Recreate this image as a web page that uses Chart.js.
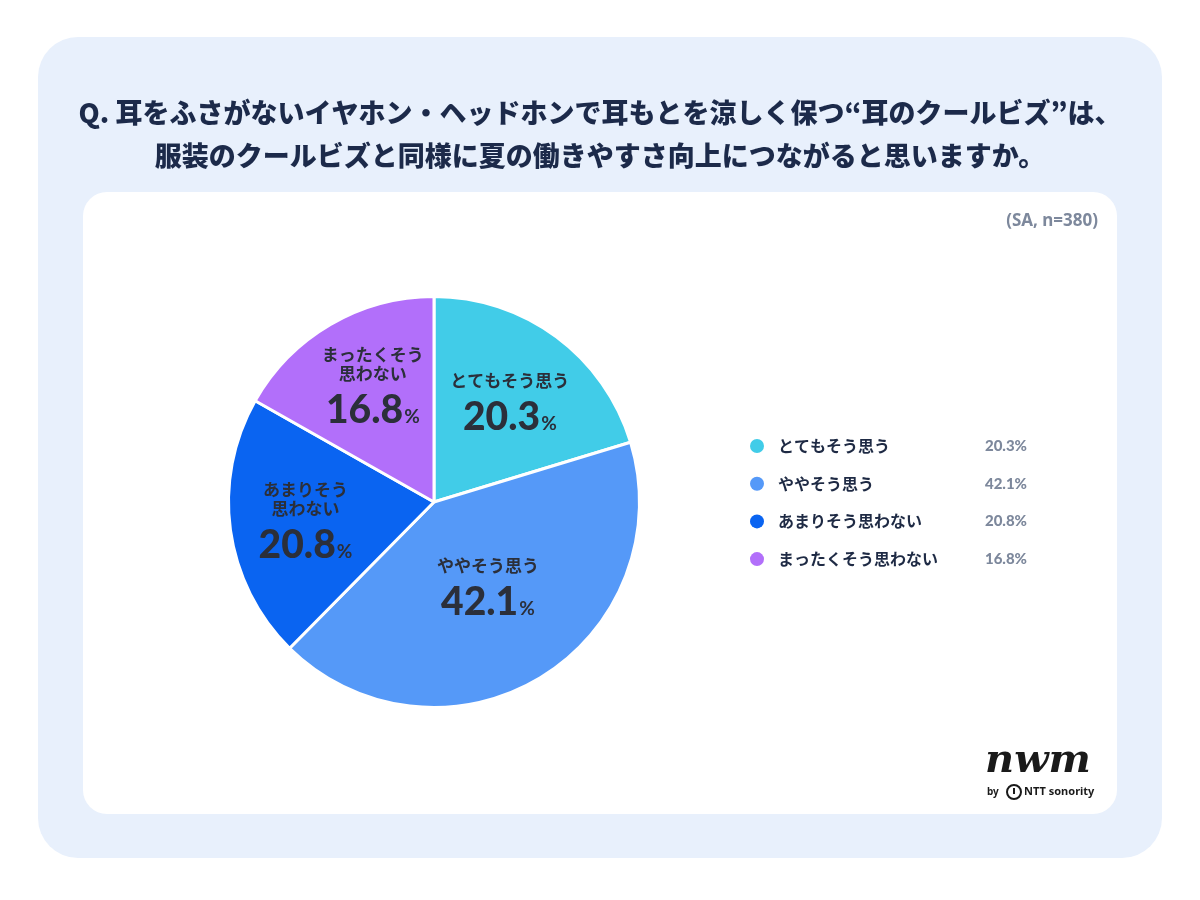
<!DOCTYPE html>
<html>
<head>
<meta charset="utf-8">
<script src="https://cdn.jsdelivr.net/npm/chart.js@4/dist/chart.umd.min.js"></script>
<style>
html,body{margin:0;padding:0;background:#fff;}
#wrap{width:1200px;height:900px;position:relative;}
</style>
</head>
<body>
<div id="wrap"><canvas id="c" width="1200" height="900"></canvas></div>
<script>
const titleLines = [
  'Q. 耳をふさがないイヤホン・ヘッドホンで耳もとを涼しく保つ“耳のクールビズ”は、',
  '服装のクールビズと同様に夏の働きやすさ向上につながると思いますか。'
];
const sampleNote = '(SA, n=380)';
const categories = ['とてもそう思う', 'ややそう思う', 'あまりそう思わない', 'まったくそう思わない'];
const sliceLabelLines = [['とてもそう思う'], ['ややそう思う'], ['あまりそう', '思わない'], ['まったくそう', '思わない']];
const values = [20.3, 42.1, 20.8, 16.8];
const colors = ['#41CCE8', '#5599F8', '#0A64F1', '#B26FFA'];

const JP = '"Noto Sans CJK JP", "Noto Sans", sans-serif';
const NUM = 'Lato, "Noto Sans", sans-serif';
// label placement (radius factor, angle nudge in degrees) - styling only
const labelPos = [[0.62, 0], [0.48, -2], [0.63, 1], [0.65, 3]];

function roundRect(ctx, x, y, w, h, r) {
  ctx.beginPath();
  ctx.moveTo(x + r, y);
  ctx.arcTo(x + w, y, x + w, y + h, r);
  ctx.arcTo(x + w, y + h, x, y + h, r);
  ctx.arcTo(x, y + h, x, y, r);
  ctx.arcTo(x, y, x + w, y, r);
  ctx.closePath();
}

const decor = {
  id: 'decor',
  beforeDraw(chart) {
    const ctx = chart.ctx;
    ctx.save();
    ctx.fillStyle = '#ffffff';
    ctx.fillRect(0, 0, 1200, 900);
    ctx.fillStyle = '#E8F0FC';
    roundRect(ctx, 38, 37, 1124, 821, 40);
    ctx.fill();
    ctx.fillStyle = '#ffffff';
    roundRect(ctx, 83, 192, 1034, 622, 24);
    ctx.fill();
    // title
    ctx.fillStyle = '#1C2A4A';
    ctx.font = '900 27px ' + JP;
    ctx.textAlign = 'center';
    ctx.textBaseline = 'middle';
    ctx.fillText(titleLines[0], 600, 113);
    ctx.fillText(titleLines[1], 600, 156);
    // note
    ctx.fillStyle = '#7D889C';
    ctx.font = 'bold 17px "Noto Sans", sans-serif';
    ctx.textAlign = 'right';
    ctx.fillText(sampleNote, 1098, 221);
    ctx.restore();
  },
  afterDraw(chart) {
    const ctx = chart.ctx;
    const meta = chart.getDatasetMeta(0);
    ctx.save();
    ctx.textBaseline = 'middle';
    meta.data.forEach((arc, i) => {
      const p = arc.getProps(['x', 'y', 'startAngle', 'endAngle', 'outerRadius'], true);
      const mid = (p.startAngle + p.endAngle) / 2 + labelPos[i][1] * Math.PI / 180;
      const r = p.outerRadius * labelPos[i][0];
      const cx = p.x + Math.cos(mid) * r;
      const cy = p.y + Math.sin(mid) * r;
      const lines = sliceLabelLines[i];
      const lh = 19;
      const valH = 34;
      const total = lines.length * lh + valH + 4;
      let y = cy - total / 2 + lh / 2;
      ctx.fillStyle = '#2B2F3A';
      ctx.font = 'bold 17px ' + JP;
      ctx.textAlign = 'center';
      lines.forEach(l => { ctx.fillText(l, cx, y); y += lh; });
      y += 4 + valH / 2 - lh / 2 + 6;
      const num = values[i].toFixed(1);
      ctx.font = '900 39px ' + NUM;
      const wNum = ctx.measureText(num).width;
      ctx.font = 'bold 19px ' + NUM;
      const wPct = ctx.measureText('%').width;
      const startX = cx - (wNum + 1 + wPct) / 2;
      ctx.textAlign = 'left';
      ctx.textBaseline = 'alphabetic';
      ctx.font = '900 39px ' + NUM;
      ctx.fillText(num, startX, y + 13);
      ctx.font = 'bold 19px ' + NUM;
      ctx.fillText('%', startX + wNum + 1, y + 13);
      ctx.textBaseline = 'middle';
    });
    // legend
    const ly0 = 446, step = 37.7;
    categories.forEach((c, i) => {
      const y = ly0 + i * step;
      ctx.fillStyle = colors[i];
      ctx.beginPath();
      ctx.arc(757, y, 7, 0, Math.PI * 2);
      ctx.fill();
      ctx.fillStyle = '#1E2A44';
      ctx.font = 'bold 16px ' + JP;
      ctx.textAlign = 'left';
      ctx.fillText(c, 778, y);
      ctx.fillStyle = '#7D889C';
      ctx.font = '900 15px ' + NUM;
      ctx.textAlign = 'right';
      ctx.fillText(values[i].toFixed(1) + '%', 1027, y);
    });
    // logo
    ctx.fillStyle = '#1A1A1A';
    ctx.textAlign = 'center';
    ctx.font = 'italic bold 40px "DejaVu Serif", serif';
    ctx.fillText('nwm', 1038, 762);
    ctx.font = 'bold 10px "Noto Sans", sans-serif';
    ctx.textAlign = 'left';
    ctx.fillText('by', 987, 792);
    ctx.lineWidth = 2;
    ctx.strokeStyle = '#1A1A1A';
    ctx.beginPath();
    ctx.arc(1014, 792, 7, 0, Math.PI * 2);
    ctx.stroke();
    ctx.beginPath();
    ctx.moveTo(1014, 788); ctx.lineTo(1014, 794);
    ctx.stroke();
    ctx.font = 'bold 11px "Noto Sans", sans-serif';
    ctx.fillText('NTT sonority', 1024, 792);
    ctx.restore();
  }
};

new Chart(document.getElementById('c'), {
  type: 'pie',
  data: {
    labels: categories,
    datasets: [{
      data: values,
      backgroundColor: colors,
      borderColor: '#ffffff',
      borderWidth: 3
    }]
  },
  options: {
    responsive: false,
    animation: false,
    devicePixelRatio: 1,
    layout: { padding: { left: 227, right: 559, top: 295, bottom: 191 } },
    plugins: { legend: { display: false }, tooltip: { enabled: false } }
  },
  plugins: [decor]
});
</script>
</body>
</html>
